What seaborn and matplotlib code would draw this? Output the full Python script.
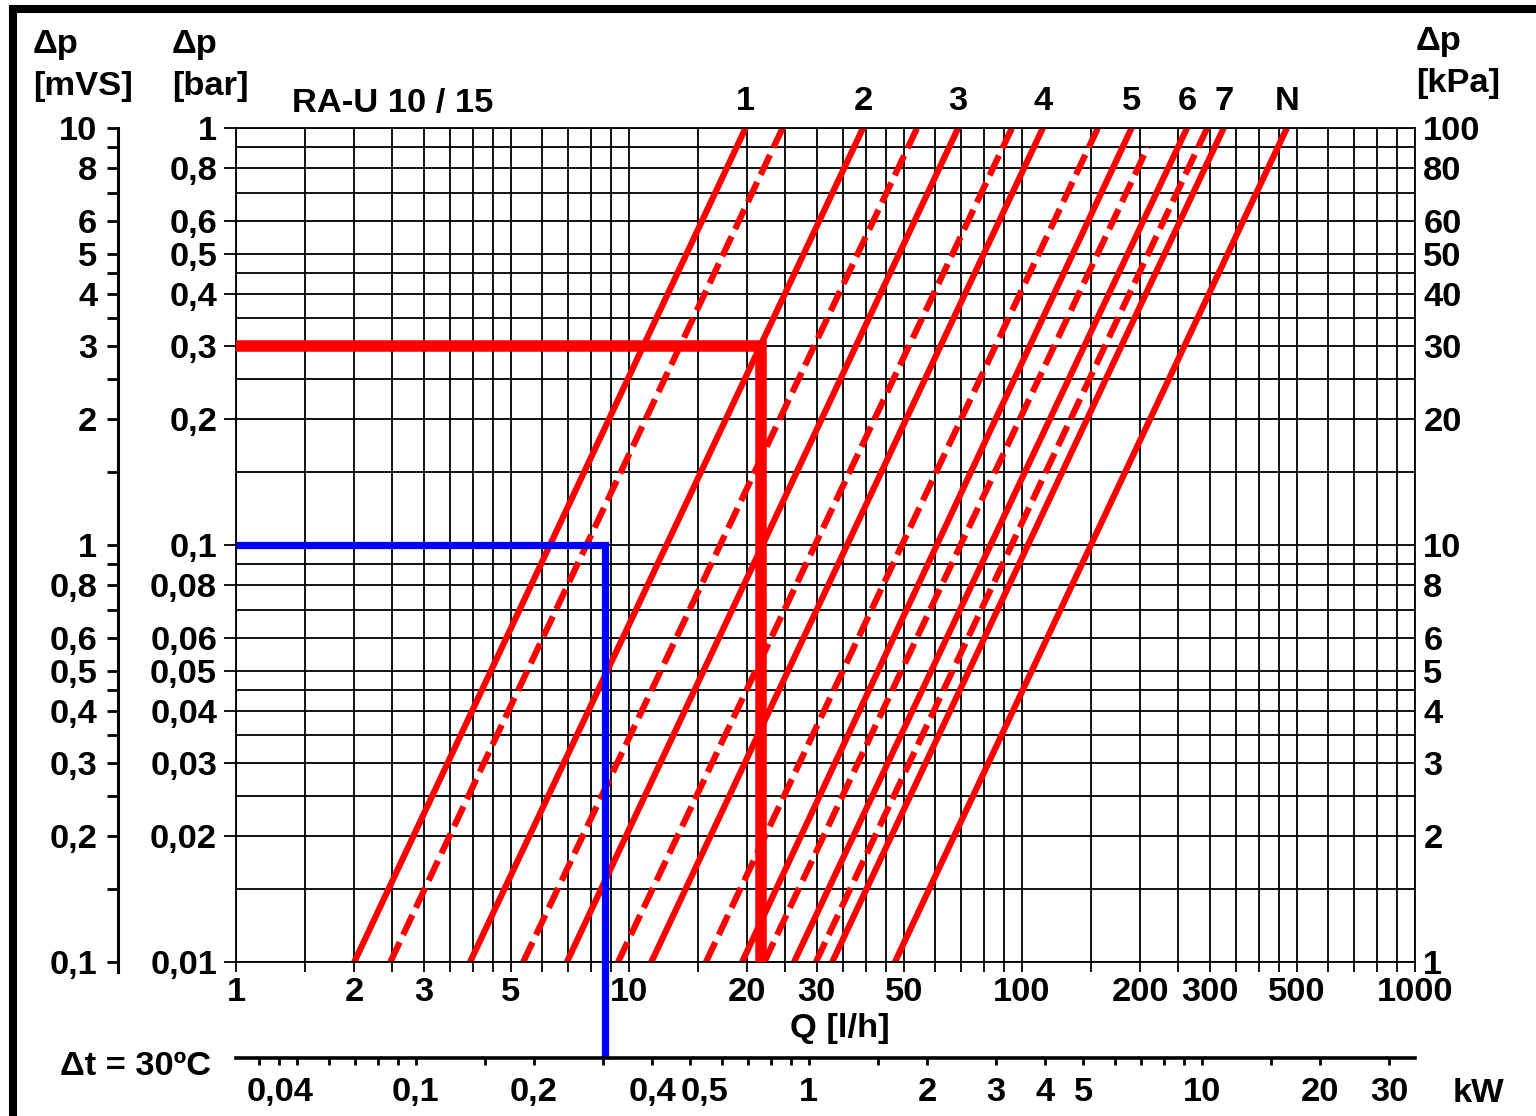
import matplotlib
matplotlib.use("Agg")
from matplotlib import pyplot as plt
from matplotlib import transforms
from matplotlib.lines import Line2D
from matplotlib.ticker import FixedLocator, FuncFormatter, NullLocator
import pandas as pd
import seaborn as sns

# valve RA-U 10/15: flow Q [l/h] where each curve enters (0.01 bar) and leaves the chart
solid_names = ["1", "2", "3", "4", "5", "6", "7", "N"]
solid_q_low = [2.0, 3.94, 6.95, 11.4, 19.4, 26.3, 32.9, 47.5]
solid_q_high = [19.8, 39.4, 68.8, 113, 190, 263, 326, 472]
dashed_q_low = [2.47, 5.38, 9.38, 15.7, 22.1, 29.9]
dashed_q_high = [24.6, 54.1, 94.3, 156, 209, 296]
dashed_dp_high = [1, 1, 1, 1, 0.9, 1]

# worked examples (red / blue)
red_dp, red_q = 0.3, 21.7
blue_dp, blue_q = 0.1, 8.7

# grids and tick values
q_grid = [1, 1.5, 2, 2.5, 3, 3.5, 4, 4.5, 5, 6, 7, 8, 9, 10, 15, 20, 25, 30, 35, 40, 45,
          50, 60, 70, 80, 90, 100, 150, 200, 250, 300, 350, 400, 450, 500, 600, 700, 800, 900, 1000]
q_labels = [1, 2, 3, 5, 10, 20, 30, 50, 100, 200, 300, 500, 1000]
dp_grid = [0.01, 0.015, 0.02, 0.025, 0.03, 0.035, 0.04, 0.045, 0.05, 0.06, 0.07, 0.08, 0.09,
           0.1, 0.15, 0.2, 0.25, 0.3, 0.35, 0.4, 0.45, 0.5, 0.6, 0.7, 0.8, 0.9, 1]
bar_labels = [0.01, 0.02, 0.03, 0.04, 0.05, 0.06, 0.08, 0.1, 0.2, 0.3, 0.4, 0.5, 0.6, 0.8, 1]
mvs_labels = [0.1, 0.2, 0.3, 0.4, 0.5, 0.6, 0.8, 1, 2, 3, 4, 5, 6, 8, 10]
kpa_labels = [1, 2, 3, 4, 5, 6, 8, 10, 20, 30, 40, 50, 60, 80, 100]
kw_ticks = [0.04, 0.045, 0.05, 0.06, 0.07, 0.08, 0.09, 0.1, 0.15, 0.2, 0.3, 0.4, 0.5, 0.6, 0.7,
            0.8, 0.9, 1, 1.5, 2, 3, 4, 5, 6, 7, 8, 9, 10, 15, 20, 30]
kw_labels = [0.04, 0.1, 0.2, 0.4, 0.5, 1, 2, 3, 4, 5, 10, 20, 30]
kw_shifted = {0.04: 15, 0.5: 10}  # labels nudged right in the original (points)
kw_per_lh = 1.163 * 30 / 1000  # dt = 30 K

sns.set_style("white", {"axes.edgecolor": "black", "text.color": "black",
                        "xtick.color": "black", "ytick.color": "black"})
plt.rcParams["font.family"] = ["Liberation Sans", "DejaVu Sans"]
plt.rcParams["font.weight"] = "bold"
FS = 24.8

W, H = 1536, 1116
fig = plt.figure(figsize=(W / 100, H / 100), dpi=100)


def box(x0, y0, x1, y1):
    return [x0 / W, 1 - y1 / H, (x1 - x0) / W, (y1 - y0) / H]


def comma(v, pos=None):
    return f"{v:g}".replace(".", ",")


# main chart
ax = fig.add_axes(box(236, 128, 1415, 962))
ax.set_xscale("log")
ax.set_yscale("log")
ax.set_xlim(1, 1000)
ax.set_ylim(0.01, 1)

rows = []
for i, name in enumerate(solid_names):
    rows.append({"Q": solid_q_low[i], "dp": 0.01, "curve": f"s{name}", "kind": "solid"})
    rows.append({"Q": solid_q_high[i], "dp": 1, "curve": f"s{name}", "kind": "solid"})
for i in range(len(dashed_q_low)):
    rows.append({"Q": dashed_q_low[i], "dp": 0.01, "curve": f"d{i}", "kind": "dashed"})
    rows.append({"Q": dashed_q_high[i], "dp": dashed_dp_high[i], "curve": f"d{i}", "kind": "dashed"})
curves = pd.DataFrame(rows)

sns.lineplot(data=curves, x="Q", y="dp", units="curve", estimator=None, style="kind",
             dashes={"solid": "", "dashed": (3.5, 1.3)}, color="#ff0000", linewidth=4.5,
             sort=False, legend=False, ax=ax)
ax.set_xlabel("")
ax.set_ylabel("")

ax.xaxis.set_major_locator(FixedLocator(q_labels))
ax.xaxis.set_minor_locator(FixedLocator([q for q in q_grid if q not in q_labels]))
ax.xaxis.set_major_formatter(FuncFormatter(comma))
ax.xaxis.set_minor_formatter(FuncFormatter(lambda v, p: ""))
ax.yaxis.set_major_locator(FixedLocator(bar_labels))
ax.yaxis.set_minor_locator(FixedLocator([d for d in dp_grid if d not in bar_labels]))
ax.yaxis.set_major_formatter(FuncFormatter(comma))
ax.yaxis.set_minor_formatter(FuncFormatter(lambda v, p: ""))
ax.grid(True, which="both", color="black", linewidth=1.3)
ax.tick_params(axis="x", which="both", bottom=True, direction="out", length=7, width=1.3,
               pad=3.5, labelsize=FS)
ax.tick_params(axis="y", which="major", left=True, direction="out", length=8.6, width=1.3,
               pad=5, labelsize=FS)
ax.tick_params(axis="y", which="minor", length=0)
for s in ax.spines.values():
    s.set_linewidth(1.3)

# worked examples
kw_y = 1 - 1058 / H
y_low = ax.transData.inverted().transform(fig.transFigure.transform((0, kw_y)))[1]
ax.plot([1, red_q, red_q], [red_dp, red_dp, 0.01], color="#ff0000", linewidth=8.3,
        solid_joinstyle="miter", solid_capstyle="butt", zorder=5)
ax.plot([1, blue_q, blue_q], [blue_dp, blue_dp, y_low], color="#0000ff", linewidth=5.2,
        solid_joinstyle="miter", solid_capstyle="butt", clip_on=False, zorder=6)

# curve names above the chart
lab_tr = transforms.blended_transform_factory(ax.transData, fig.transFigure)
for name, q in zip(solid_names, solid_q_high):
    ax.text(q, 1 - 110 / H, name, transform=lab_tr, ha="center", va="baseline", fontsize=FS)

# kPa on the right
kax = ax.twinx()
kax.set_yscale("log")
kax.set_ylim(1, 100)
kax.yaxis.set_major_locator(FixedLocator(kpa_labels))
kax.yaxis.set_minor_locator(NullLocator())
kax.yaxis.set_major_formatter(FuncFormatter(comma))
kax.tick_params(axis="y", length=0, pad=6, labelsize=FS)
for s in kax.spines.values():
    s.set_visible(False)

# mVS scale on the far left
mvs = fig.add_axes(box(118, 128, 119, 962))
mvs.set_yscale("log")
mvs.set_ylim(0.1, 10)
mvs.set_xticks([])
mvs.patch.set_visible(False)
for k in ["right", "top", "bottom"]:
    mvs.spines[k].set_visible(False)
mvs.spines["left"].set_linewidth(2.2)
mvs.spines["left"].set_bounds(0.1 / 10 ** (10 / 417), 10)
mvs.yaxis.set_major_locator(FixedLocator(mvs_labels))
mvs.yaxis.set_minor_locator(FixedLocator([d * 10 for d in dp_grid if d * 10 not in mvs_labels]))
mvs.yaxis.set_major_formatter(FuncFormatter(comma))
mvs.yaxis.set_minor_formatter(FuncFormatter(lambda v, p: ""))
mvs.tick_params(axis="y", which="both", left=True, direction="out", length=8, width=2,
                pad=7, labelsize=FS)

# heat output scale (kW) at dt = 30 C
kw = fig.add_axes(box(236, 1057, 1415, 1058))
kw.set_xscale("log")
kw.set_xlim(1 * kw_per_lh, 1000 * kw_per_lh)
kw.set_yticks([])
kw.patch.set_visible(False)
for k in ["left", "right", "top"]:
    kw.spines[k].set_visible(False)
kw.spines["bottom"].set_linewidth(2.6)
kw.xaxis.set_major_locator(FixedLocator(kw_labels))
kw.xaxis.set_minor_locator(FixedLocator([v for v in kw_ticks if v not in kw_labels]))
kw.xaxis.set_major_formatter(FuncFormatter(lambda v, p: "" if v in kw_shifted else comma(v)))
kw.xaxis.set_minor_formatter(FuncFormatter(lambda v, p: ""))
kw.tick_params(axis="x", which="both", bottom=True, direction="out", length=5, width=2,
               pad=9, labelsize=FS)
kw_base = transforms.blended_transform_factory(kw.transData, kw.transAxes)
for v, dx in kw_shifted.items():
    off = transforms.ScaledTranslation(dx / 72, -14 / 72, fig.dpi_scale_trans)
    kw.text(v, 0, comma(v), transform=kw_base + off, ha="center", va="top", fontsize=FS)

# titles and units
def ftext(x, y, s, **kw_):
    fig.text(x / W, 1 - y / H, s, fontsize=FS, va="baseline", **kw_)


ftext(33, 53, "Δp")
ftext(33, 95, "[mVS]")
ftext(172, 53, "Δp")
ftext(172, 95, "[bar]")
ftext(1416, 50, "Δp")
ftext(1416, 92, "[kPa]")
ftext(292, 112, "RA-U 10 / 15")
ftext(840, 1037, "Q [l/h]", ha="center")
ftext(60, 1075, "Δt = 30ºC")
ftext(1453, 1102, "kW")

# picture frame
fig.add_artist(Line2D([13 / W, 13 / W], [0, 1 - 9 / H], color="black", linewidth=5.8,
                      solid_capstyle="projecting"))
fig.add_artist(Line2D([13 / W, 1], [1 - 9 / H, 1 - 9 / H], color="black", linewidth=5.8,
                      solid_capstyle="projecting"))

plt.savefig("out.png", dpi=100)
